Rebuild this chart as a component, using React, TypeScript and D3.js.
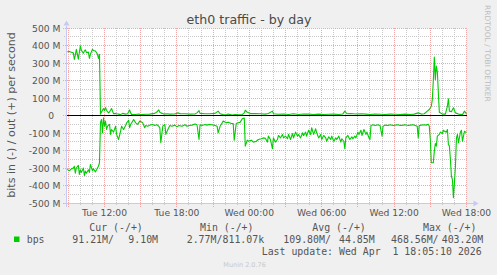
import React from "react";
import * as d3 from "d3";

// time in minutes since Tue 00:00, value in Mbit/s
const outSeries: [number, number][] = [
  [535,364],[545,366],[555,362],[565,358],[570,320],[575,345],[580,378],[590,322],[595,360],[600,398],[605,372],[615,356],[620,368],[625,375],[630,360],[640,362],[645,326],[650,350],[660,378],[665,372],[675,368],[680,360],[685,350],[690,326],[695,349],[700,8],[705,20],[710,30],[715,40],[720,28],[725,45],[730,30],[740,15],[745,20],[755,40],[760,25],[765,10],[775,12],[780,10],[790,8],[800,5],[810,12],[825,8],[835,10],[845,32],[850,15],[855,5],[875,6],[890,9],[900,5],[925,7],[945,8],[970,12],[980,20],[990,32],[995,18],[1000,15],[1015,8],[1025,10],[1045,8],[1070,9],[1085,15],[1095,10],[1120,10],[1145,8],[1170,9],[1180,15],[1190,28],[1195,12],[1220,10],[1245,10],[1270,12],[1285,25],[1295,10],[1310,5],[1325,3],[1335,8],[1355,3],[1370,6],[1385,4],[1405,6],[1415,15],[1420,30],[1430,18],[1445,11],[1470,11],[1495,10],[1520,8],[1535,11],[1555,25],[1560,10],[1585,7],[1610,9],[1635,6],[1660,10],[1685,6],[1710,9],[1735,8],[1760,6],[1785,8],[1810,6],[1835,7],[1860,8],[1885,6],[1905,9],[1915,25],[1925,10],[1945,11],[1970,9],[1995,10],[2020,8],[2040,6],[2065,8],[2090,7],[2115,6],[2140,8],[2165,7],[2190,6],[2215,8],[2240,6],[2260,8],[2280,15],[2295,8],[2310,10],[2325,25],[2335,34],[2345,53],[2350,91],[2355,200],[2360,334],[2365,205],[2370,282],[2375,250],[2380,130],[2385,19],[2400,8],[2415,8],[2425,53],[2430,95],[2435,25],[2445,22],[2455,44],[2465,15],[2480,8],[2500,5],[2510,25],[2520,9]
];

const inSeries: [number, number][] = [
  [535,-308],[545,-316],[555,-305],[565,-300],[570,-290],[575,-330],[580,-300],[590,-285],[595,-337],[600,-310],[605,-325],[615,-300],[620,-343],[625,-318],[630,-330],[640,-310],[645,-325],[650,-280],[660,-315],[665,-305],[675,-322],[680,-312],[685,-300],[690,-290],[695,-270],[700,-40],[705,-23],[710,-99],[715,-13],[720,-61],[725,-32],[730,-80],[735,-61],[745,-51],[750,-108],[755,-80],[765,-95],[775,-61],[780,-108],[790,-137],[800,-90],[805,-61],[815,-80],[825,-57],[830,-42],[840,-27],[845,-70],[850,-51],[865,-23],[875,-42],[885,-51],[895,-32],[910,-42],[920,-70],[925,-57],[935,-61],[945,-55],[960,-51],[970,-57],[980,-53],[990,-61],[995,-70],[1000,-156],[1010,-61],[1020,-51],[1025,-108],[1035,-80],[1045,-57],[1055,-61],[1070,-55],[1080,-65],[1090,-57],[1105,-61],[1120,-53],[1130,-61],[1140,-57],[1155,-55],[1170,-48],[1180,-53],[1190,-137],[1195,-53],[1205,-57],[1220,-51],[1230,-55],[1240,-51],[1255,-53],[1270,-57],[1280,-61],[1285,-99],[1295,-61],[1305,-42],[1310,-32],[1325,-42],[1335,-38],[1350,-46],[1360,-46],[1365,-141],[1375,-46],[1385,-42],[1395,-38],[1405,-19],[1415,-15],[1420,-175],[1430,-141],[1435,-147],[1450,-141],[1460,-152],[1475,-147],[1485,-137],[1500,-133],[1510,-128],[1520,-130],[1530,-152],[1535,-118],[1545,-137],[1555,-190],[1560,-128],[1570,-152],[1580,-137],[1585,-114],[1595,-128],[1605,-108],[1610,-128],[1620,-118],[1630,-133],[1635,-108],[1645,-137],[1655,-103],[1660,-128],[1670,-95],[1680,-118],[1685,-108],[1695,-128],[1705,-99],[1710,-114],[1720,-95],[1725,-118],[1735,-84],[1745,-108],[1750,-70],[1760,-108],[1770,-76],[1775,-99],[1785,-128],[1795,-108],[1800,-137],[1810,-114],[1820,-128],[1825,-147],[1835,-122],[1845,-137],[1850,-118],[1860,-147],[1870,-128],[1875,-137],[1885,-118],[1895,-152],[1900,-133],[1910,-147],[1915,-190],[1920,-128],[1930,-114],[1940,-137],[1950,-122],[1955,-133],[1965,-118],[1970,-128],[1980,-95],[1985,-108],[1995,-84],[2000,-114],[2010,-80],[2020,-108],[2025,-95],[2035,-128],[2040,-137],[2045,-57],[2055,-53],[2065,-57],[2080,-53],[2090,-57],[2100,-118],[2105,-61],[2115,-55],[2130,-57],[2140,-53],[2155,-57],[2165,-55],[2180,-53],[2190,-57],[2205,-55],[2215,-53],[2230,-57],[2240,-55],[2255,-53],[2265,-57],[2275,-61],[2280,-128],[2285,-57],[2295,-55],[2310,-53],[2320,-55],[2330,-50],[2335,-61],[2340,-137],[2345,-270],[2350,-270],[2355,-270],[2360,-204],[2365,-160],[2370,-175],[2375,-118],[2385,-108],[2390,-95],[2400,-103],[2405,-84],[2410,-90],[2420,-95],[2425,-80],[2430,-166],[2435,-175],[2440,-251],[2445,-347],[2450,-366],[2455,-470],[2460,-385],[2465,-290],[2470,-128],[2475,-108],[2480,-156],[2490,-95],[2495,-84],[2500,-147],[2510,-90],[2515,-95],[2520,-95]
];

const xTickMinutes = [720, 1080, 1440, 1800, 2160, 2520];
const xTickLabels = ["Tue 12:00", "Tue 18:00", "Wed 00:00", "Wed 06:00", "Wed 12:00", "Wed 18:00"];
const yTickValues = [500, 400, 300, 200, 100, 0, -100, -200, -300, -400, -500];
const yTickLabels = ["500 M", "400 M", "300 M", "200 M", "100 M", "0", "-100 M", "-200 M", "-300 M", "-400 M", "-500 M"];

const legendHeaders = ["Cur (-/+)", "Min (-/+)", "Avg (-/+)", "Max (-/+)"];
const legendInValues = ["91.21M/", "2.77M/", "109.80M/", "468.56M/"];
const legendOutValues = ["9.10M", "811.07k", "44.85M", "403.20M"];

const TITLE = "eth0 traffic - by day";
const YLABEL = "bits in (-) / out (+) per second";
const LAST_UPDATE = "Last update: Wed Apr  1 18:05:10 2026";

export default function App() {
  const W = 497, H = 275;
  const left = 66.5, right = 466.5, top = 28.5, bottom = 203.5;
  const x = d3.scaleLinear().domain([720, 2520]).range([104.5, 466.5]);
  const y = d3.scaleLinear().domain([-500, 500]).range([203, 28]);
  const snapY = (v: number) => Math.floor(y(v)) + 0.5;
  const snapX = (t: number) => Math.floor(x(t)) + 0.5;

  const minorX = d3.range(540, 2521, 60).filter((t) => t % 180 !== 0);
  const majorX = d3.range(540, 2521, 180);
  const minorY = d3.range(-450, 500, 100);
  const majorY = yTickValues;

  const line = d3.line<[number, number]>().x((d) => x(d[0])).y((d) => y(d[1]));

  const sans = "'DejaVu Sans', Verdana, sans-serif";
  const mono = "'DejaVu Sans Mono', monospace";
  const textCol = "#555";
  const minorCol = "#c8c8c8";
  const majorCol = "#f2a6a6";
  const axisCol = "#c8c8f4";

  const legendHeaderX = [89.3, 200, 312.3, 423];
  const legendInX = [72.3, 186.7, 283.3, 391];
  const legendOutX = [128.3, 222.5, 339, 441.7];

  return (
    <svg width={W} height={H} style={{ position: "absolute", left: 0, top: 0 }} xmlns="http://www.w3.org/2000/svg">
      <rect x={0} y={0} width={W} height={H} fill="#f0f0f0" />
      <rect x={left} y={top} width={right - left} height={bottom - top} fill="#ffffff" />
      <g shapeRendering="crispEdges">
        {/* minor grid */}
        {minorX.map((t) => (
          <line key={"mx" + t} x1={snapX(t)} x2={snapX(t)} y1={28} y2={206} stroke={minorCol} strokeDasharray="1,1" strokeWidth={1} />
        ))}
        {minorY.map((v) => (
          <line key={"my" + v} x1={64} x2={467} y1={snapY(v)} y2={snapY(v)} stroke={minorCol} strokeDasharray="1,1" strokeWidth={1} />
        ))}
        {/* major grid */}
        {majorX.map((t) => (
          <line key={"Mx" + t} x1={snapX(t)} x2={snapX(t)} y1={28} y2={207} stroke={majorCol} strokeDasharray="1,1" strokeWidth={1} />
        ))}
        {majorY.map((v) => (
          <line key={"My" + v} x1={63} x2={467} y1={snapY(v)} y2={snapY(v)} stroke={majorCol} strokeDasharray="1,1" strokeWidth={1} />
        ))}
        {/* axes */}
        <line x1={left} x2={left} y1={bottom + 3} y2={top - 3} stroke={axisCol} strokeWidth={1} />
        <line x1={left - 3} x2={right + 7} y1={bottom} y2={bottom} stroke={axisCol} strokeWidth={1} />
      </g>
      <path d={`M${left - 3},${top - 3} L${left + 3},${top - 3} L${left},${top - 8} Z`} fill={axisCol} />
      <path d={`M${right + 7},${bottom - 3} L${right + 7},${bottom + 3} L${right + 12},${bottom} Z`} fill={axisCol} />
      {/* data */}
      <g>
        <path d={line(inSeries) || ""} fill="none" stroke="#00cc00" strokeWidth={1.1} strokeLinejoin="round" />
        <path d={line(outSeries) || ""} fill="none" stroke="#00cc00" strokeWidth={1.1} strokeLinejoin="round" />
        <line x1={left} x2={right} y1={snapY(0)} y2={snapY(0)} stroke="#000" strokeWidth={1} shapeRendering="crispEdges" />
      </g>
      {/* y tick labels */}
      {yTickValues.map((v, i) => (
        <text key={"yl" + v} x={v === 0 ? 54 : 60.5} y={snapY(v) + 3.4} textAnchor="end" fontFamily={sans} fontSize={9.2} fill={textCol}>
          {yTickLabels[i]}
        </text>
      ))}
      {/* x tick labels */}
      {xTickMinutes.map((t, i) => (
        <text key={"xl" + t} x={x(t)} y={216} textAnchor="middle" fontFamily={sans} fontSize={9.2} fill={textCol}>
          {xTickLabels[i]}
        </text>
      ))}
      {/* title */}
      <text x={249} y={24} textAnchor="middle" fontFamily={sans} fontSize={12.6} fill="#4a4a4a">{TITLE}</text>
      {/* y axis label */}
      <text transform="translate(15,115) rotate(-90)" textAnchor="middle" fontFamily={sans} fontSize={11.1} fill={textCol}>{YLABEL}</text>
      {/* watermark */}
      <text transform="translate(485,5) rotate(90)" textAnchor="start" fontFamily={sans} fontSize={7.5} fill="#bdbdbd">RRDTOOL / TOBI OETIKER</text>
      {/* legend */}
      {legendHeaders.map((h, i) => (
        <text key={"lh" + i} x={legendHeaderX[i]} y={231} fontFamily={mono} fontSize={9.9} fill={textCol} style={{ whiteSpace: "pre" }}>{h}</text>
      ))}
      <rect x={14} y={236.5} width={5.5} height={5.5} fill="#00cc00" />
      <text x={26.7} y={243} fontFamily={mono} fontSize={9.9} fill={textCol}>bps</text>
      {legendInValues.map((v, i) => (
        <text key={"li" + i} x={legendInX[i]} y={243} fontFamily={mono} fontSize={9.9} fill={textCol}>{v}</text>
      ))}
      {legendOutValues.map((v, i) => (
        <text key={"lo" + i} x={legendOutX[i]} y={243} fontFamily={mono} fontSize={9.9} fill={textCol}>{v}</text>
      ))}
      <text x={261.7} y={254.8} fontFamily={mono} fontSize={9.9} fill={textCol} style={{ whiteSpace: "pre" }}>{LAST_UPDATE}</text>
      <text x={223.3} y={266.5} fontFamily={sans} fontSize={6.5} fill="#c8c8c8">Munin 2.0.76</text>
    </svg>
  );
}
